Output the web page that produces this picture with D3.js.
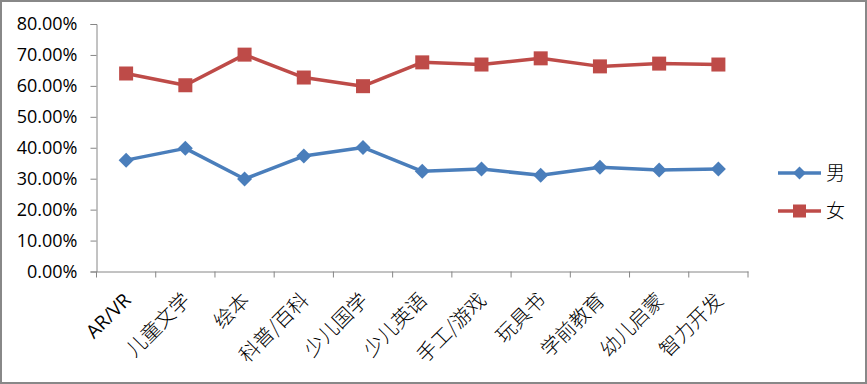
<!DOCTYPE html>
<html>
<head>
<meta charset="utf-8">
<script src="https://cdn.jsdelivr.net/npm/d3@7"></script>
<style>
  html, body { margin: 0; padding: 0; background: #fff; }
  svg { display: block; }
</style>
</head>
<body>
<div id="chart"></div>
<script>
const categories = ['AR/VR', '儿童文学', '绘本', '科普/百科', '少儿国学', '少儿英语', '手工/游戏', '玩具书', '学前教育', '幼儿启蒙', '智力开发'];
const male = [36.0, 39.8, 29.9, 37.3, 40.1, 32.4, 33.1, 31.1, 33.7, 32.8, 33.1];
const female = [64.0, 60.2, 70.1, 62.7, 59.9, 67.6, 66.9, 68.9, 66.3, 67.2, 66.9];
const yTicks = [0, 10, 20, 30, 40, 50, 60, 70, 80];

const W = 867, H = 384;
const margin = { left: 96.5, right: 119, top: 24, bottom: 112.5 };
const latinFont = '"Open Sans", "Noto Sans", sans-serif';
const cjkFont = '"Noto Sans CJK SC", sans-serif';
const axisColor = '#868686';

const svg = d3.select('#chart').append('svg')
  .attr('width', W).attr('height', H);

// outer frame
svg.append('rect')
  .attr('x', 1).attr('y', 1).attr('width', W - 2).attr('height', H - 2)
  .attr('fill', '#fff').attr('stroke', '#888').attr('stroke-width', 2);

const x = d3.scaleBand().domain(categories)
  .range([margin.left, W - margin.right]);
const y = d3.scaleLinear().domain([0, 80])
  .range([H - margin.bottom, margin.top]);

// y axis
const yAxis = svg.append('g')
  .attr('transform', `translate(${margin.left},0)`)
  .call(d3.axisLeft(y).tickValues(yTicks).tickSize(6).tickPadding(13)
    .tickFormat(d => d.toFixed(2) + '%'));
yAxis.selectAll('text')
  .attr('fill', '#000').style('font-size', '18px').style('font-family', latinFont);

// x axis: ticks on category boundaries
const xAxis = svg.append('g')
  .attr('transform', `translate(0,${y(0)})`)
  .call(d3.axisBottom(x).tickSize(0).tickFormat(''));
const bounds = categories.map(c => x(c)).concat([x.range()[1]]);
xAxis.selectAll('.bound').data(bounds)
  .join('line').attr('class', 'bound')
  .attr('x1', d => d).attr('x2', d => d)
  .attr('y1', 0).attr('y2', 6)
  .attr('stroke', axisColor);

svg.selectAll('.domain, .tick line').attr('stroke', axisColor);

// rotated category labels
svg.append('g').selectAll('text').data(categories)
  .join('text')
  .attr('transform', d => `translate(${x(d) + x.bandwidth() / 2 + 6},${y(0) + 30}) rotate(-45)`)
  .attr('text-anchor', 'end')
  .attr('fill', '#000')
  .style('font-size', d => /^[A-Z]/.test(d) ? '19px' : '20px')
  .style('font-family', d => /^[A-Z]/.test(d) ? latinFont : cjkFont)
  .style('font-weight', d => /^[A-Z]/.test(d) ? 400 : 300)
  .text(d => d);

const cx = i => x(categories[i]) + x.bandwidth() / 2;
const line = d3.line().x((d, i) => cx(i)).y(d => y(d));

const series = [
  { name: '男', values: male, color: '#4A7EBB', shape: 'diamond' },
  { name: '女', values: female, color: '#BE4B48', shape: 'square' }
];

const diamond = s => `M0,${-s}L${s},0L0,${s}L${-s},0Z`;

series.forEach(s => {
  svg.append('path').datum(s.values)
    .attr('d', line)
    .attr('fill', 'none').attr('stroke', s.color)
    .attr('stroke-width', 3.5).attr('stroke-linejoin', 'round');
  const g = svg.append('g');
  if (s.shape === 'diamond') {
    g.selectAll('path').data(s.values).join('path')
      .attr('transform', (d, i) => `translate(${cx(i)},${y(d)})`)
      .attr('d', diamond(7.5)).attr('fill', s.color);
  } else {
    g.selectAll('rect').data(s.values).join('rect')
      .attr('x', (d, i) => cx(i) - 7).attr('y', d => y(d) - 7)
      .attr('width', 14).attr('height', 14).attr('fill', s.color);
  }
});

// legend
const legend = svg.append('g').attr('transform', 'translate(778,173)');
series.forEach((s, i) => {
  const g = legend.append('g').attr('transform', `translate(0,${i * 38})`);
  g.append('line').attr('x1', 0).attr('x2', 43).attr('y1', 0).attr('y2', 0)
    .attr('stroke', s.color).attr('stroke-width', 3.5);
  if (s.shape === 'diamond') {
    g.append('path').attr('transform', 'translate(21.5,0)').attr('d', diamond(6.5)).attr('fill', s.color);
  } else {
    g.append('rect').attr('x', 15).attr('y', -6.5).attr('width', 13).attr('height', 13).attr('fill', s.color);
  }
  g.append('text').attr('x', 48).attr('y', 7)
    .attr('fill', '#000').style('font-size', '19px').style('font-family', cjkFont)
    .style('font-weight', 300)
    .text(s.name);
});
</script>
</body>
</html>
